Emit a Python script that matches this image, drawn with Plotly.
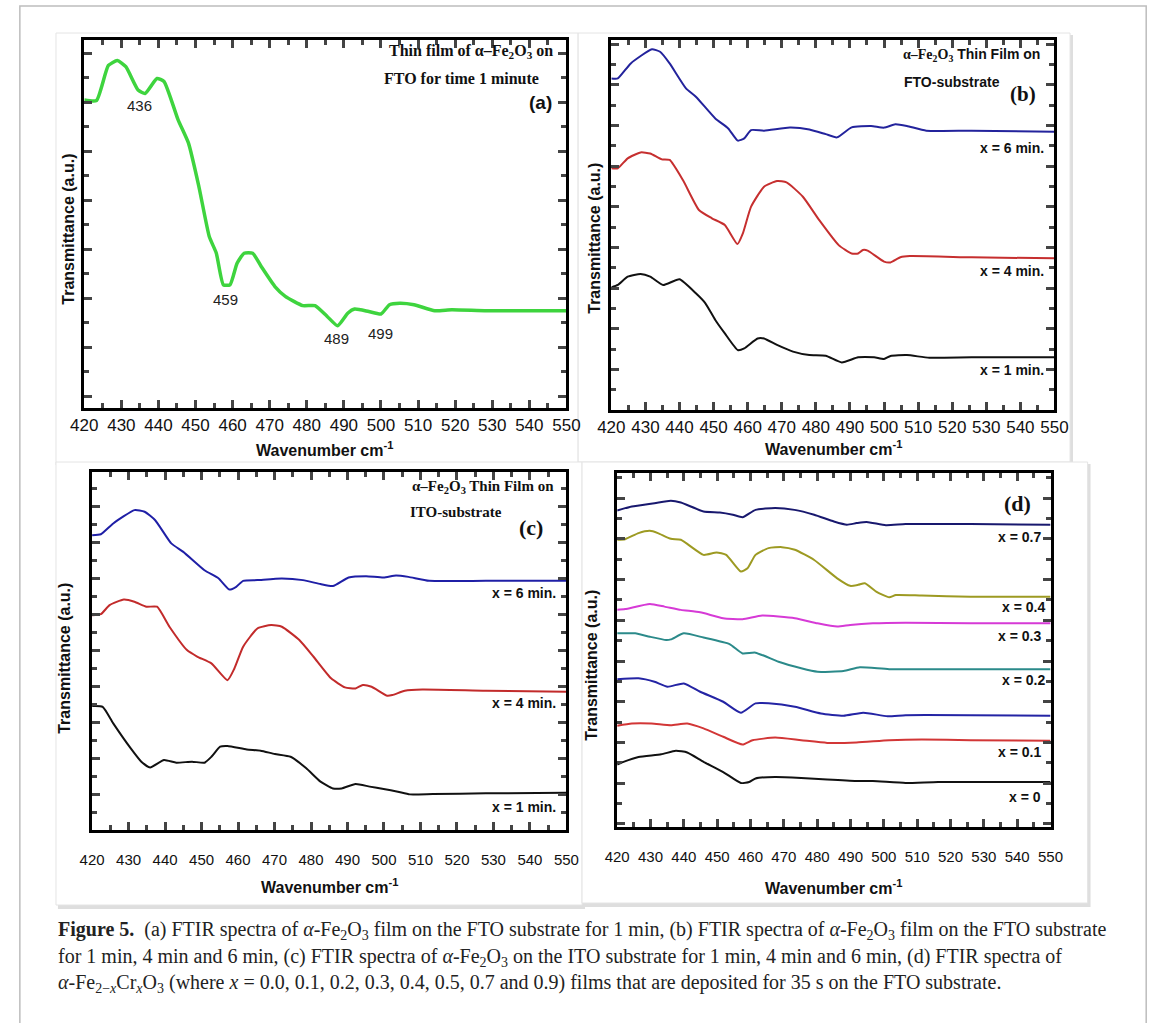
import plotly.graph_objects as go

W, H = 1168, 1023

# ---------------- data ----------------
# (a) alpha-Fe2O3 on FTO, 1 minute
a_wn = [420, 423.3, 426.5, 428.9, 431.2, 434.5, 436.4, 439.6, 441.5, 445.3, 448.1, 450.9, 453.7, 455.6,
        457.5, 459.3, 461.2, 463.1, 465.4, 467.7, 471.4, 474.2, 478.9, 482.2, 485.5, 488.3, 491.1,
        492.9, 496.7, 500.0, 502.3, 505.1, 508.9, 514.5, 519.1, 528.5, 550]
a_T = [12.09, 12.07, 13.5, 13.7, 13.45, 12.5, 12.36, 12.97, 12.85, 11.28, 10.33, 8.56, 6.52, 5.84,
       4.55, 4.55, 5.43, 5.84, 5.84, 5.3, 4.48, 4.08, 3.70, 3.70, 3.26, 2.88, 3.40,
       3.56, 3.46, 3.36, 3.74, 3.80, 3.74, 3.49, 3.53, 3.49, 3.49]
a_peaks = [436, 459, 489, 499]
a_peak_x = [435, 458, 488, 500]
a_peak_y = [11.85, 3.97, 2.34, 2.58]

# (b) FTO substrate: 6 min, 4 min, 1 min
b6_wn = [420, 421.9, 425.7, 431.9, 434.3, 437.1, 441.9, 444.8, 450.5, 454.3, 457.1, 459.0, 461.0, 464.8,
         472.4, 478.1, 482.9, 486.2, 490.5, 496.2, 500.0, 503.3, 506.7, 512.4, 525.7, 550]
b6_T = [16.31, 16.31, 17.05, 17.74, 17.62, 17.05, 15.82, 15.41, 14.34, 13.85, 13.25, 13.36, 13.77, 13.74,
        13.89, 13.80, 13.57, 13.41, 13.90, 13.97, 13.89, 14.05, 13.97, 13.74, 13.74, 13.69]
b4_wn = [420, 421.9, 424.8, 428.6, 431.4, 434.8, 437.1, 441.0, 445.7, 449.5, 453.3, 457.0, 458.6, 461.0,
         464.8, 468.6, 471.4, 476.2, 481.0, 486.7, 490.5, 492.4, 493.8, 495.2, 500.0, 501.9, 504.8,
         507.6, 525.7, 550]
b4_T = [11.89, 11.89, 12.38, 12.67, 12.62, 12.33, 12.30, 11.31, 9.84, 9.43, 9.10, 8.16, 8.69, 10.0,
        10.98, 11.26, 11.20, 10.49, 9.34, 8.11, 7.70, 7.70, 7.87, 7.84, 7.30, 7.26, 7.51,
        7.57, 7.51, 7.46]
b1_wn = [420, 421.9, 424.8, 428.6, 431.4, 435.2, 440.0, 444.8, 447.6, 450.5, 453.3, 457.1, 459.0, 462.9,
         464.8, 468.6, 473.3, 478.1, 482.9, 487.6, 492.4, 497.1, 500.0, 501.9, 506.7, 513.3, 525.7, 550]
b1_T = [6.03, 6.15, 6.56, 6.69, 6.56, 6.15, 6.43, 5.74, 5.25, 4.43, 3.77, 2.95, 3.03, 3.52,
        3.52, 3.20, 2.87, 2.70, 2.67, 2.34, 2.59, 2.59, 2.51, 2.66, 2.70, 2.57, 2.59, 2.59]
b_labels = ["x = 6 min.", "x = 4 min.", "x = 1 min."]
b_label_y = [12.87, 6.85, 1.97]

# (c) ITO substrate: 6 min, 4 min, 1 min
c6_wn = [420, 422.4, 425.8, 431.6, 434.4, 437.3, 441.7, 445.0, 450.8, 454.7, 457.6, 459.5, 461.4, 465.3,
         472.0, 477.8, 482.6, 486.0, 490.3, 495.1, 499.9, 503.3, 506.7, 512.4, 527.9, 550]
c6_T = [16.39, 16.44, 17.04, 17.78, 17.69, 17.22, 15.93, 15.46, 14.44, 13.98, 13.37, 13.52, 13.85, 13.89,
        13.98, 13.89, 13.67, 13.56, 14.04, 14.11, 14.04, 14.15, 14.07, 13.85, 13.85, 13.85]
c4_wn = [420, 422.4, 424.8, 428.7, 431.6, 434.9, 437.8, 441.2, 446.0, 448.9, 452.7, 457.1, 459.0, 461.4,
         465.3, 469.1, 472.0, 476.8, 480.7, 485.5, 489.3, 492.2, 494.2, 496.6, 500.9, 502.3, 505.7,
         510.5, 527.9, 550]
c4_T = [11.94, 12.0, 12.5, 12.81, 12.69, 12.41, 12.41, 11.30, 10.0, 9.63, 9.26, 8.33, 8.98, 10.19,
        11.20, 11.39, 11.30, 10.56, 9.63, 8.43, 7.93, 7.87, 8.06, 7.96, 7.46, 7.5, 7.74,
        7.81, 7.74, 7.69]
c1_wn = [420, 422.9, 425.8, 430.6, 433.5, 435.9, 439.7, 443.1, 447.4, 450.8, 452.7, 455.1, 457.1, 462.4,
         466.2, 470.1, 474.4, 478.7, 482.6, 486.0, 488.4, 492.2, 496.1, 499.9, 503.8, 507.1, 513.4,
         527.9, 550]
c1_T = [6.89, 6.85, 5.93, 4.54, 3.80, 3.48, 3.89, 3.74, 3.80, 3.74, 4.07, 4.63, 4.67, 4.48,
        4.41, 4.22, 4.07, 3.43, 2.69, 2.31, 2.31, 2.56, 2.41, 2.28, 2.13, 1.98, 2.0,
        2.04, 2.07]
c_labels = ["x = 6 min.", "x = 4 min.", "x = 1 min."]
c_label_y = [13.15, 7.04, 1.30]

# (d) alpha-Fe(2-x)Cr(x)O3 on FTO
d07_wn = [420, 424.4, 431.2, 436.1, 439.1, 445.9, 450.8, 454.7, 457.6, 461.5, 467.4, 473.2, 479.1, 485.0,
          488.9, 491.8, 494.8, 500.6, 506.5, 526.0, 550]
d07_T = [15.54, 15.74, 15.90, 16.02, 15.93, 15.49, 15.44, 15.33, 15.21, 15.57, 15.66, 15.57, 15.33, 15.0,
         14.84, 14.92, 14.98, 14.82, 14.87, 14.87, 14.84]
d04_wn = [420, 422.4, 426.4, 429.8, 432.2, 436.1, 439.1, 445.9, 449.8, 452.7, 457.1, 459.1, 461.5, 465.4,
          469.4, 473.3, 479.1, 486.0, 489.9, 492.3, 494.3, 497.7, 501.6, 503.6, 511.4, 526.0, 550]
d04_T = [14.10, 14.13, 14.43, 14.54, 14.43, 14.15, 14.10, 13.36, 13.48, 13.36, 12.54, 12.70, 13.36, 13.69,
         13.74, 13.61, 13.11, 12.21, 11.84, 11.89, 11.97, 11.56, 11.28, 11.39, 11.36, 11.31, 11.31]
d03_wn = [420, 422.4, 429.8, 434.2, 439.1, 444.9, 451.8, 457.6, 463.5, 473.3, 480.1, 486.0, 489.9, 496.7,
          506.5, 526.0, 550]
d03_T = [10.66, 10.70, 10.95, 10.82, 10.66, 10.54, 10.25, 10.20, 10.38, 10.25, 10.0, 9.84, 9.92, 10.0,
         10.03, 10.0, 10.0]
d02_wn = [420, 425.4, 429.8, 434.7, 436.1, 440.0, 445.9, 453.7, 457.6, 461.5, 468.4, 475.2, 480.1, 487.9,
          492.8, 501.6, 526.0, 550]
d02_T = [9.51, 9.51, 9.34, 9.18, 9.21, 9.51, 9.30, 8.98, 8.52, 8.56, 8.11, 7.79, 7.62, 7.66,
         7.84, 7.75, 7.75, 7.74]
dbl_wn = [420, 426.4, 431.2, 435.1, 440.0, 444.9, 451.8, 457.1, 461.5, 465.4, 473.3, 481.1, 487.9, 493.8,
          501.1, 506.5, 526.0, 550]
dbl_T = [7.25, 7.30, 7.13, 6.89, 7.05, 6.64, 6.15, 5.61, 6.07, 6.07, 5.90, 5.57, 5.46, 5.61,
         5.44, 5.49, 5.49, 5.46]
d01_wn = [420, 424.4, 430.3, 436.1, 441.0, 445.9, 451.8, 457.6, 460.6, 467.4, 475.2, 483.0, 491.8, 501.6,
          511.4, 526.0, 550]
d01_T = [4.97, 5.08, 5.08, 5.0, 5.08, 4.84, 4.43, 4.05, 4.26, 4.39, 4.26, 4.13, 4.15, 4.26,
         4.30, 4.26, 4.23]
d00_wn = [420, 421.9, 426.4, 433.2, 437.6, 441.0, 445.9, 451.8, 457.1, 459.6, 461.5, 467.4, 475.2, 483.0,
          491.8, 496.7, 506.5, 516.3, 550]
d00_T = [3.07, 3.20, 3.44, 3.57, 3.74, 3.66, 3.20, 2.70, 2.16, 2.21, 2.38, 2.46, 2.41, 2.33,
         2.26, 2.26, 2.16, 2.21, 2.21]
d_labels = ["x = 0.7", "x = 0.4", "x = 0.3", "x = 0.2", "x = 0.1", "x = 0"]
d_label_x = [547.6, 549.0, 547.6, 549.0, 547.6, 547.6]
d_label_y = [14.23, 10.79, 9.39, 7.21, 3.69, 1.48]

x_ticks = list(range(420, 551, 10))

# ---------------- helpers ----------------
def fx(p):
    return p / W

def fy(p):
    return 1 - p / H

fig = go.Figure()

def line(xs, ys, color, width, ax):
    fig.add_trace(go.Scatter(x=xs, y=ys, mode="lines", xaxis="x" + ax, yaxis="y" + ax,
                             line=dict(color=color, width=width, shape="spline", smoothing=0.5),
                             showlegend=False, hoverinfo="skip"))

line(a_wn, a_T, "#3ed43e", 3.5, "")
line(b6_wn, b6_T, "#23239c", 2, "2")
line(b4_wn, b4_T, "#c62f2f", 2, "2")
line(b1_wn, b1_T, "#111111", 2, "2")
line(c6_wn, c6_T, "#1f1fa6", 2, "3")
line(c4_wn, c4_T, "#c22b2b", 2, "3")
line(c1_wn, c1_T, "#111111", 2, "3")
line(d07_wn, d07_T, "#18186e", 2, "4")
line(d04_wn, d04_T, "#9d9a22", 2, "4")
line(d03_wn, d03_T, "#d63ad6", 2, "4")
line(d02_wn, d02_T, "#2b8a8a", 2, "4")
line(dbl_wn, dbl_T, "#2424a4", 2, "4")
line(d01_wn, d01_T, "#d23636", 2, "4")
line(d00_wn, d00_T, "#111111", 2, "4")

def xaxis(dom, lw, font, standoff, anchor):
    return dict(domain=dom, range=[420, 550], tickvals=x_ticks, ticks="inside", ticklen=8, tickwidth=2.5,
                minor=dict(dtick=5, tick0=420, ticks="inside", ticklen=5, tickwidth=2.5),
                showline=True, linewidth=lw, linecolor="black", mirror="allticks", showgrid=False,
                zeroline=False, tickfont=font, ticklabelstandoff=standoff, fixedrange=True, anchor=anchor)

def yaxis(dom, rng, t0, lw, anchor):
    return dict(domain=dom, range=rng, tick0=t0, dtick=2, ticks="inside", ticklen=8, tickwidth=2.5,
                minor=dict(dtick=1, tick0=t0, ticks="inside", ticklen=5, tickwidth=2.5),
                showline=True, linewidth=lw, linecolor="black", mirror="allticks", showgrid=False,
                zeroline=False, showticklabels=False, anchor=anchor, fixedrange=True)

bold_font = dict(family="Liberation Sans, Arial", size=17, color="#111")
reg_font = dict(family="Liberation Sans, Arial", size=15, color="#111")

fig.update_layout(
    width=W, height=H, margin=dict(l=0, r=0, t=0, b=0),
    paper_bgcolor="white", plot_bgcolor="white",
    xaxis=xaxis([fx(72), fx(566)], 3, bold_font, 0, "y"),
    yaxis=yaxis([fy(408), fy(40)], [-0.476, 14.54], 0, 3, "x"),
    xaxis2=xaxis([fx(612), fx(1066)], 3, bold_font, 0, "y2"),
    yaxis2=yaxis([fy(410), fy(40)], [0, 18.2], 0, 3, "x2"),
    xaxis3=xaxis([fx(80), fx(566)], 3, reg_font, 14, "y3"),
    yaxis3=yaxis([fy(830), fy(472)], [0, 19.9], 0, 3, "x3"),
    xaxis4=xaxis([fx(618), fx(1062)], 3, reg_font, 14, "y4"),
    yaxis4=yaxis([fy(827), fy(473)], [0, 17.38], 0.15, 3, "x4"),
)

# ---------------- panel backgrounds / frames ----------------
shapes = []
shapes.append(dict(type="rect", xref="paper", yref="paper", x0=fx(6), x1=fx(1160), y0=fy(1030), y1=fy(6),
                   line=dict(color="#bdbdbd", width=1.5), fillcolor="rgba(0,0,0,0)", layer="below"))
panels = [(43, 33, 578, 465), (578, 33, 1082, 462), (43, 462, 582, 905), (582, 462, 1100, 903)]
for (x0, y0, x1, y1) in panels:
    shapes.append(dict(type="rect", xref="paper", yref="paper", x0=fx(x0 + 2), x1=fx(x1 + 3),
                       y0=fy(y1 + 4), y1=fy(y0 + 2), line=dict(width=0), fillcolor="#dedede", layer="below"))
for (x0, y0, x1, y1) in panels:
    shapes.append(dict(type="rect", xref="paper", yref="paper", x0=fx(x0), x1=fx(x1), y0=fy(y1), y1=fy(y0),
                       line=dict(color="#e4e4e4", width=1), fillcolor="white", layer="below"))
fig.update_layout(shapes=shapes)

# ---------------- text ----------------
ann = []
SERIF = "Liberation Serif, Times New Roman"
SANS = "Liberation Sans, Arial"

def ptext(x, y, text, size, family=SANS, xanchor="center", angle=0, color="#111", yanchor="middle"):
    ann.append(dict(xref="paper", yref="paper", x=fx(x), y=fy(y), text=text, showarrow=False,
                    xanchor=xanchor, yanchor=yanchor, textangle=angle,
                    font=dict(family=family, size=size, color=color)))

# axis titles
ptext(55, 229, "<b>Transmittance (a.u.)</b>", 16, angle=-90)
ptext(594, 238, "<b>Transmittance (a.u.)</b>", 16, angle=-90)
ptext(51, 658, "<b>Transmittance (a.u.)</b>", 16, angle=-90)
ptext(591, 665, "<b>Transmittance (a.u.)</b>", 16, angle=-90)
xt = "<b>Wavenumber cm<sup>-1</sup></b>"
ptext(318, 449, xt, 16)
ptext(840, 448, xt, 16)
ptext(323, 886, xt, 16)
ptext(840, 887, xt, 16)

# panel (a) text
ptext(554, 52, "<b>Thin film of α–Fe<sub>2</sub>O<sub>3</sub> on</b>", 16, family=SERIF, xanchor="right")
ptext(458, 78, "<b>FTO for time 1 minute</b>", 16, family=SERIF)
ptext(553, 102, "<b>(a)</b>", 19, xanchor="right")
for lab, xx, yy in zip(a_peaks, a_peak_x, a_peak_y):
    ann.append(dict(xref="x", yref="y", x=xx, y=yy, text=str(lab), showarrow=False,
                    font=dict(family=SANS, size=15, color="#222")))

# panel (b) text
ptext(1053, 55, "<span style='font-family:Liberation Serif'><b>α–Fe<sub>2</sub>O<sub>3</sub></b></span><b> Thin Film on</b>",
      14, xanchor="right")
ptext(910, 82, "<b>FTO-substrate</b>", 14, xanchor="left")
ptext(1049, 94, "<b>(b)</b>", 21, family=SERIF, xanchor="right")
for lab, yy in zip(b_labels, b_label_y):
    ann.append(dict(xref="x2", yref="y2", x=547.5, y=yy, text="<b>" + lab + "</b>", showarrow=False,
                    xanchor="right", font=dict(family=SANS, size=14, color="#111")))

# panel (c) text
ptext(555, 487, "<b>α–Fe<sub>2</sub>O<sub>3</sub> Thin Film on</b>", 15, family=SERIF, xanchor="right")
ptext(404, 512, "<b>ITO-substrate</b>", 15, family=SERIF, xanchor="left")
ptext(544, 527, "<b>(c)</b>", 22, family=SERIF, xanchor="right")
for lab, yy in zip(c_labels, c_label_y):
    ann.append(dict(xref="x3", yref="y3", x=547.6, y=yy, text="<b>" + lab + "</b>", showarrow=False,
                    xanchor="right", font=dict(family=SANS, size=14, color="#111")))

# panel (d) text
ptext(1044, 503, "<b>(d)</b>", 22, family=SERIF, xanchor="right")
for lab, xx, yy in zip(d_labels, d_label_x, d_label_y):
    ann.append(dict(xref="x4", yref="y4", x=xx, y=yy, text="<b>" + lab + "</b>", showarrow=False,
                    xanchor="right", font=dict(family=SANS, size=14, color="#111")))

# caption
cap1 = ("<b>Figure 5.</b>  (a) FTIR spectra of <i>α</i>-Fe<sub>2</sub>O<sub>3</sub> film on the FTO substrate for 1 min, "
        "(b) FTIR spectra of <i>α</i>-Fe<sub>2</sub>O<sub>3</sub> film on the FTO substrate")
cap2 = ("for 1 min, 4 min and 6 min, (c) FTIR spectra of <i>α</i>-Fe<sub>2</sub>O<sub>3</sub> on the ITO substrate "
        "for 1 min, 4 min and 6 min, (d) FTIR spectra of")
cap3 = ("<i>α</i>-Fe<sub>2−<i>x</i></sub>Cr<sub><i>x</i></sub>O<sub>3</sub> (where <i>x</i> = 0.0, 0.1, 0.2, 0.3, 0.4, "
        "0.5, 0.7 and 0.9) films that are deposited for 35 s on the FTO substrate.")
ptext(43, 930, cap1, 20, family=SERIF, xanchor="left", color="#222")
ptext(43, 957, cap2, 20, family=SERIF, xanchor="left", color="#222")
ptext(43, 983, cap3, 20, family=SERIF, xanchor="left", color="#222")

fig.update_layout(annotations=ann)
fig.write_html("out.html")
